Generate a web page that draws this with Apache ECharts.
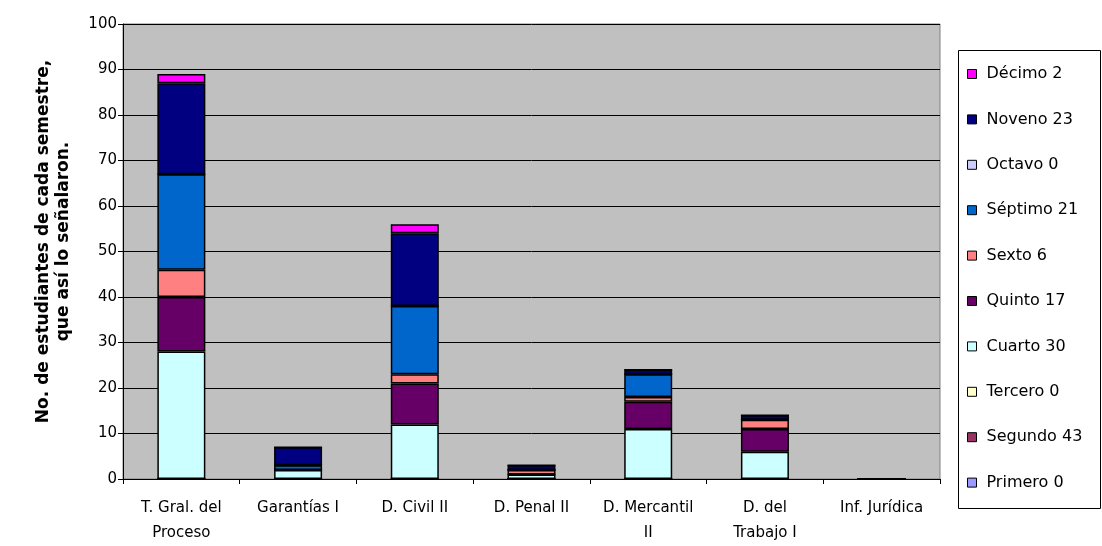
<!DOCTYPE html>
<html>
<head>
<meta charset="utf-8">
<script src="https://cdn.jsdelivr.net/npm/echarts@6/dist/echarts.min.js"></script>
<style>
html,body{margin:0;padding:0;background:#fff;}
#chart{width:1102px;height:546px;}
</style>
</head>
<body>
<div id="chart"></div>
<script>
const categories = ['T. Gral. del\nProceso', 'Garantías I', 'D. Civil II', 'D. Penal II', 'D. Mercantil\nII', 'D. del\nTrabajo I', 'Inf. Jurídica'];
const yTicks = [0, 10, 20, 30, 40, 50, 60, 70, 80, 90, 100];

const primero = [0, 0, 0, 0, 0, 0, 0];
const segundo = [0, 0, 0, 0, 0, 0, 0];
const tercero = [0, 0, 0, 0, 0, 0, 0];
const cuarto  = [28, 2, 12, 1, 11, 6, 0];
const quinto  = [12, 0, 9, 0, 6, 5, 0];
const sexto   = [6, 0, 2, 1, 1, 2, 0];
const septimo = [21, 1, 15, 0, 5, 0, 0];
const octavo  = [0, 0, 0, 0, 0, 0, 0];
const noveno  = [20, 4, 16, 1, 1, 1, 0];
const decimo  = [2, 0, 2, 0, 0, 0, 0];

const seriesNames = ['Primero 0', 'Segundo 43', 'Tercero 0', 'Cuarto 30', 'Quinto 17', 'Sexto 6', 'Séptimo 21', 'Octavo 0', 'Noveno 23', 'Décimo 2'];
const seriesData = [primero, segundo, tercero, cuarto, quinto, sexto, septimo, octavo, noveno, decimo];
const colors = ['#9999ff', '#993366', '#ffffcc', '#ccffff', '#660066', '#ff8080', '#0066cc', '#ccccff', '#000080', '#ff00ff'];
const yTitle = 'No. de estudiantes de cada semestre,\nque así lo señalaron.';

const FONT = 'DejaVu Sans';
const chart = echarts.init(document.getElementById('chart'), null, {renderer: 'canvas'});
chart.setOption({
  animation: false,
  backgroundColor: '#ffffff',
  textStyle: {fontFamily: FONT, color: '#000'},
  grid: {left: 123, right: 162, top: 24, bottom: 67, show: true, backgroundColor: '#c0c0c0', borderColor: '#808080', borderWidth: 1},
  graphic: [{
    type: 'rect', left: 958, top: 50, z: 0,
    shape: {width: 142, height: 458},
    style: {fill: '#ffffff', stroke: '#000000', lineWidth: 1}
  }],
  legend: {
    orient: 'vertical', left: 962, top: 61, z: 10,
    data: seriesNames.slice().reverse(),
    icon: 'rect', itemWidth: 9, itemHeight: 9, itemGap: 29.4,
    itemStyle: {borderColor: '#000', borderWidth: 1},
    textStyle: {fontFamily: FONT, fontSize: 16, color: '#000', lineHeight: 14, padding: [0, 0, 0, 5]},
    selectedMode: false
  },
  xAxis: {
    type: 'category', data: categories,
    axisLine: {lineStyle: {color: '#000', width: 1}},
    axisTick: {show: true, length: 5, alignWithLabel: false, lineStyle: {color: '#000'}},
    axisLabel: {fontFamily: FONT, fontSize: 15, color: '#000', margin: 17, lineHeight: 25, interval: 0},
    splitLine: {show: false}
  },
  yAxis: {
    type: 'value', min: yTicks[0], max: yTicks[yTicks.length - 1], interval: yTicks[1] - yTicks[0],
    name: yTitle, nameLocation: 'middle', nameGap: 49,
    nameTextStyle: {fontFamily: FONT, fontSize: 17, fontWeight: 'bold', color: '#000', lineHeight: 20, align: 'center', padding: [0, 0, 0, 20]},
    axisLine: {show: true, lineStyle: {color: '#000', width: 1}},
    axisTick: {show: true, length: 5, lineStyle: {color: '#000'}},
    axisLabel: {fontFamily: FONT, fontSize: 15, color: '#000', margin: 6},
    splitLine: {show: true, lineStyle: {color: '#000', width: 1}}
  },
  series: seriesNames.map((n, i) => ({
    name: n, type: 'bar', stack: 'total', data: seriesData[i], barWidth: 48,
    itemStyle: {color: colors[i], borderColor: '#000', borderWidth: 1.5},
    emphasis: {disabled: true}
  }))
});
</script>
</body>
</html>
